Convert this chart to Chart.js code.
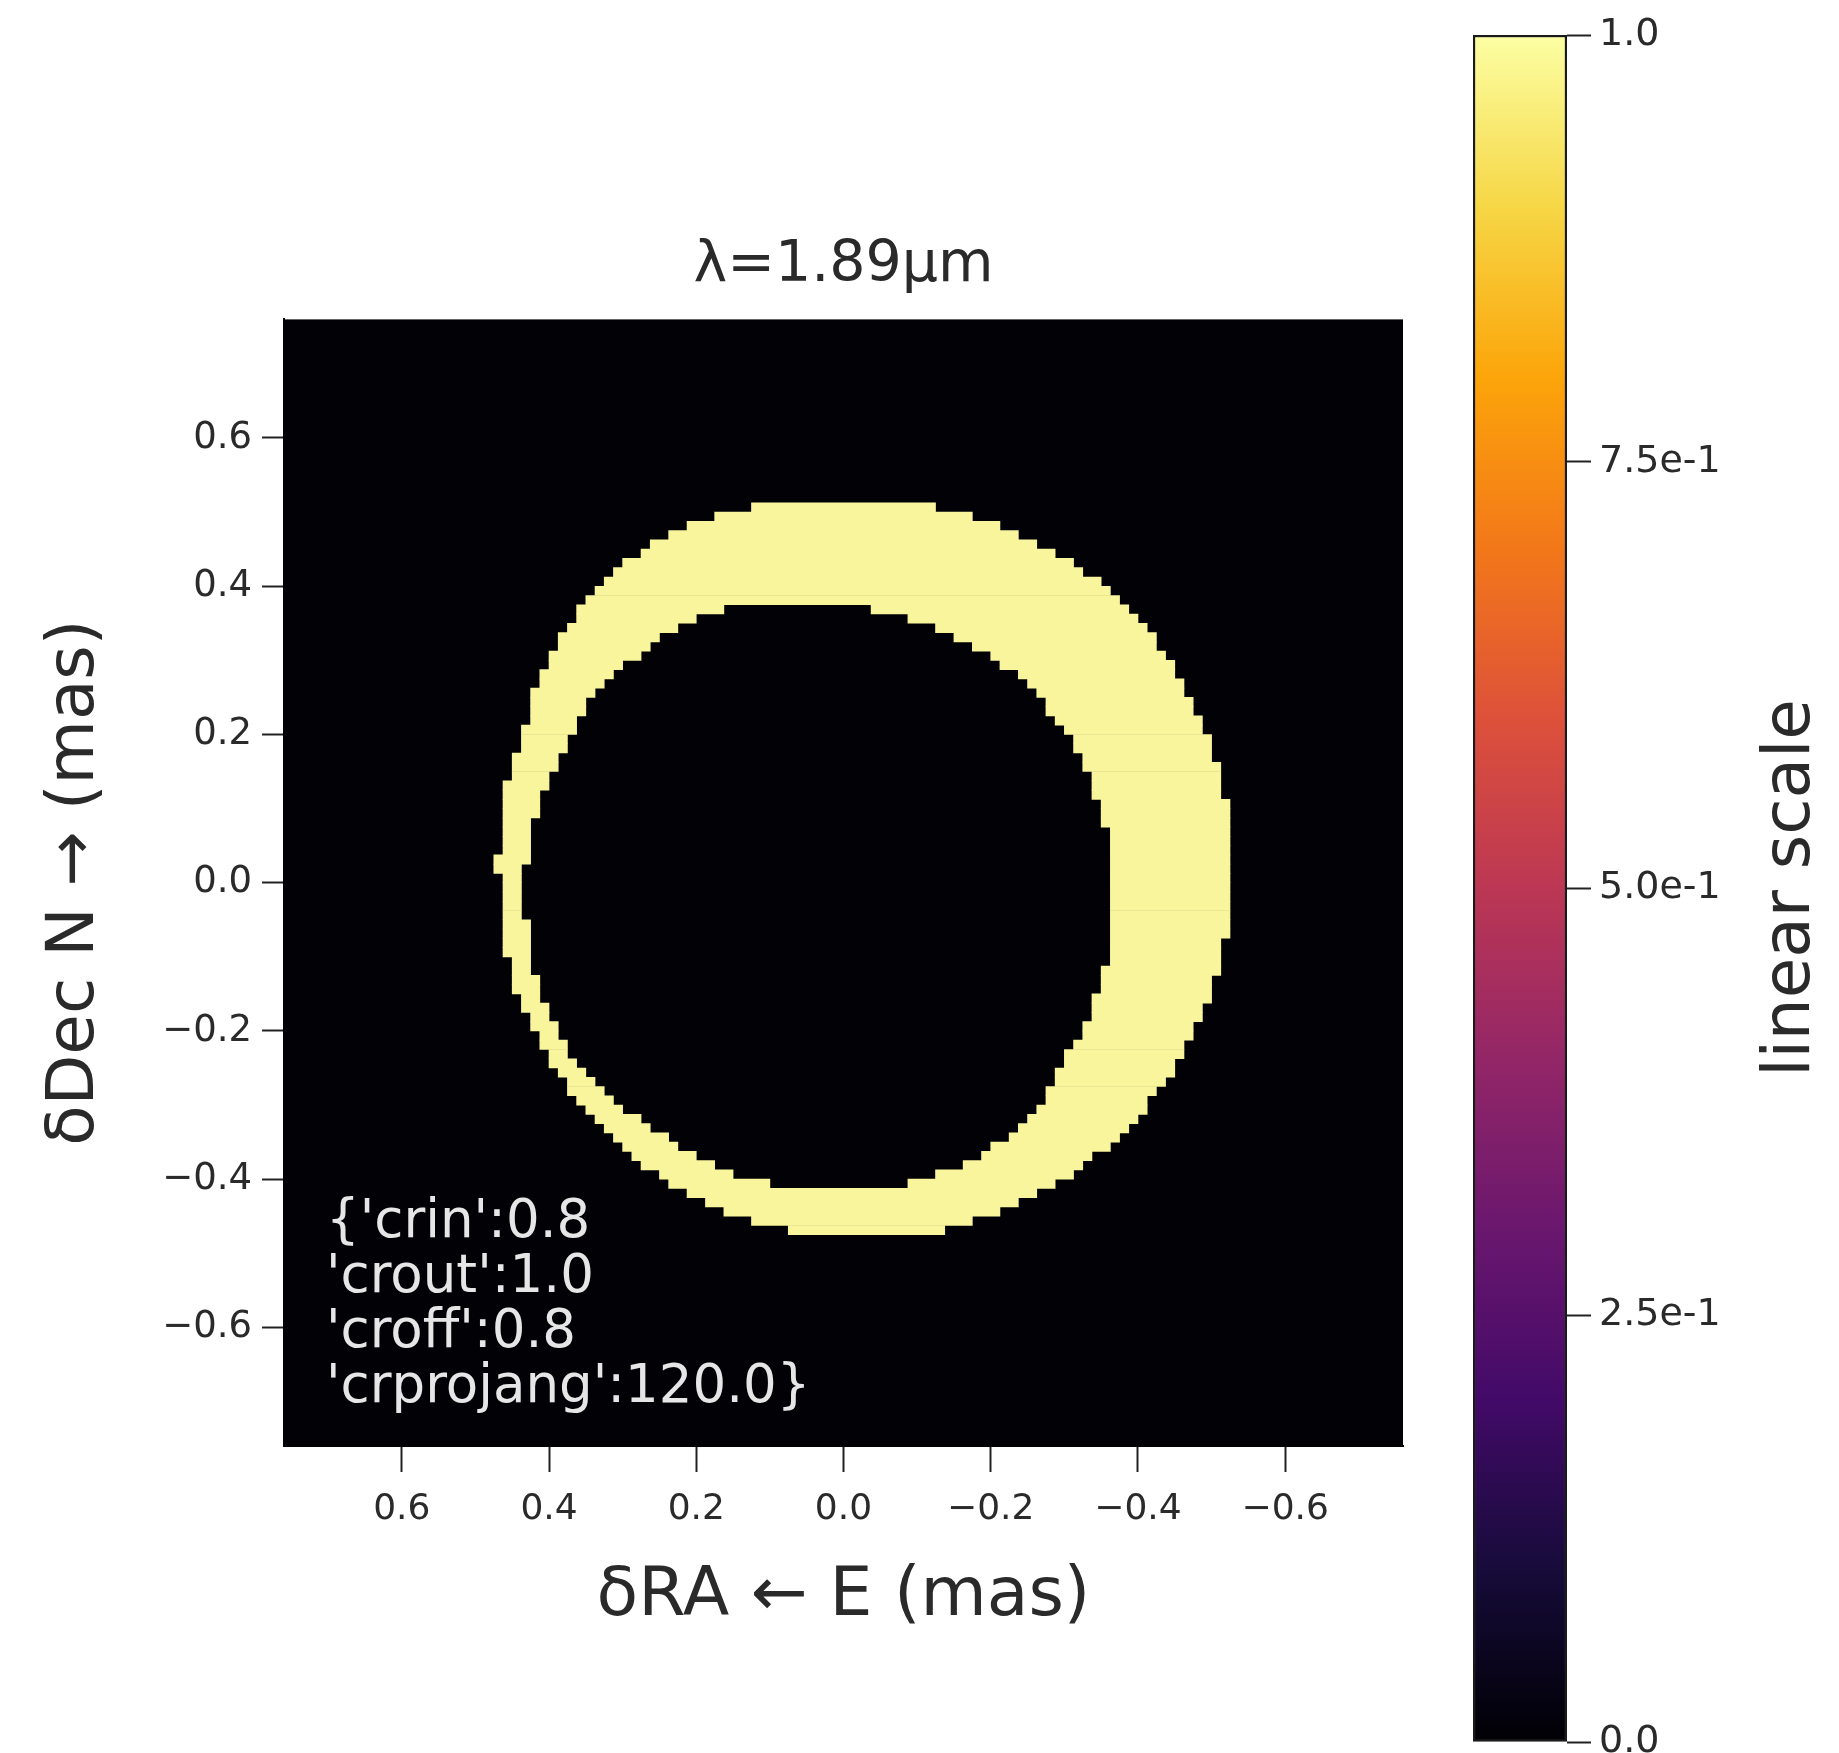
<!DOCTYPE html>
<html>
<head>
<meta charset="utf-8">
<script src="https://cdn.jsdelivr.net/npm/chart.js@4.4.1/dist/chart.umd.min.js"></script>
<style>
  html, body { margin: 0; padding: 0; background: #fff; width: 1839px; height: 1753px; overflow: hidden; }
  #img { position: absolute; left: 0; top: 0; }
  #cbar { position: absolute; left: 1440px; top: 0; }
</style>
</head>
<body>
<canvas id="img" width="1440" height="1700"></canvas>
<canvas id="cbar" width="399" height="1800"></canvas>
<script>
// model image pixel size (mas); edges below are in pixel units, +x = East
const PIX = 0.0125;

const rows = [
  40, 39, 38, 37, 36, 35, 34, 33, 32, 31,
  30, 29, 28, 27, 26, 25, 24, 23, 22, 21,
  20, 19, 18, 17, 16, 15, 14, 13, 12, 11,
  10, 9, 8, 7, 6, 5, 4, 3, 2, 1,
  0, -1, -2, -3, -4, -5, -6, -7, -8, -9,
  -10, -11, -12, -13, -14, -15, -16, -17, -18, -19,
  -20, -21, -22, -23, -24, -25, -26, -27, -28, -29,
  -30, -31, -32, -33, -34, -35, -36, -37, -38
];
const outerW = [
  -10, -14, -17, -19, -21, -23, -25, -26, -28, -29,
  -30, -31, -32, -33, -34, -34, -35, -36, -36, -37,
  -37, -38, -38, -39, -39, -40, -40, -40, -41, -41,
  -41, -41, -42, -42, -42, -42, -42, -42, -42, -42,
  -42, -42, -42, -42, -42, -42, -42, -41, -41, -41,
  -41, -40, -40, -40, -39, -39, -38, -38, -37, -37,
  -36, -36, -35, -34, -33, -33, -32, -31, -30, -29,
  -27, -26, -25, -23, -21, -19, -17, -14, -11
];
const outerE = [
  10, 14, 17, 19, 21, 22, 24, 25, 26, 27,
  28, 29, 29, 30, 31, 31, 32, 32, 33, 33,
  34, 34, 34, 34, 35, 35, 35, 36, 36, 36,
  37, 37, 37, 37, 37, 37, 37, 37, 38, 38,
  37, 37, 37, 37, 37, 37, 37, 37, 37, 36,
  36, 36, 36, 35, 35, 34, 34, 33, 33, 32,
  32, 31, 30, 30, 29, 28, 27, 26, 25, 24,
  23, 22, 20, 19, 17, 15, 13, 10, 6
];
const holeW = [
  null, null, null, null, null, null, null, null, null, null,
  null, -3, -7, -10, -12, -14, -16, -17, -19, -20,
  -21, -22, -22, -23, -24, -25, -25, -26, -26, -27,
  -27, -27, -28, -28, -28, -29, -29, -29, -29, -29,
  -29, -29, -29, -29, -29, -29, -29, -29, -29, -29,
  -28, -28, -28, -27, -27, -27, -26, -26, -25, -24,
  -24, -23, -23, -22, -22, -21, -20, -19, -18, -16,
  -15, -13, -10, -7, null, null, null, null, null
];
const holeE = [
  null, null, null, null, null, null, null, null, null, null,
  null, 13, 16, 18, 20, 21, 22, 24, 25, 26,
  27, 28, 28, 29, 29, 30, 30, 31, 31, 32,
  32, 33, 33, 33, 34, 34, 34, 34, 34, 35,
  35, 35, 35, 35, 35, 34, 34, 34, 34, 34,
  34, 33, 33, 33, 32, 32, 31, 31, 30, 30,
  29, 28, 27, 26, 25, 24, 22, 21, 19, 18,
  16, 14, 12, 8, null, null, null, null, null
];

const xTicks = [0.6, 0.4, 0.2, 0.0, -0.2, -0.4, -0.6];
const yTicks = [0.6, 0.4, 0.2, 0.0, -0.2, -0.4, -0.6];
const cbarTicks = [0, 0.25, 0.5, 0.75, 1.0];
const cbarLabels = ['0.0', '2.5e-1', '5.0e-1', '7.5e-1', '1.0'];
const infoLines = ["{'crin':0.8", "'crout':1.0", "'croff':0.8", "'crprojang':120.0}"];
const inferno = ['#000004', '#160b39', '#420a68', '#6a176e', '#932667', '#bc3754',
                 '#dd513a', '#f37819', '#fca50a', '#f6d746', '#fcffa4'];

const FONT = 'DejaVu Sans';
const TXT = '#2a2a2a';
const HOT = '#f9f59c';

// crescent rows -> floating horizontal bars
const eastSeg = [], westSeg = [];
rows.forEach((m, i) => {
    const y = (m + 0.5) * PIX;
    if (holeW[i] === null) {
        eastSeg.push({ y, x: [outerW[i] * PIX, outerE[i] * PIX] });
        return;
    }
    eastSeg.push({ y, x: [holeE[i] * PIX, outerE[i] * PIX] });
    westSeg.push({ y, x: [outerW[i] * PIX, holeW[i] * PIX] });
});

const fmt = v => (v < -1e-9 ? '\u2212' : '') + Math.abs(v).toFixed(1);

const blackBg = {
    id: 'blackBg',
    beforeDatasetsDraw(chart) {
        const a = chart.chartArea, ctx = chart.ctx;
        ctx.save();
        ctx.fillStyle = '#020206';
        ctx.fillRect(a.left, a.top, a.right - a.left, a.bottom - a.top);
        ctx.restore();
    }
};

const infoText = {
    id: 'infoText',
    afterDatasetsDraw(chart) {
        const a = chart.chartArea, ctx = chart.ctx;
        ctx.save();
        ctx.fillStyle = '#e6e6e6';
        ctx.font = `53px "${FONT}"`;
        ctx.textAlign = 'left';
        ctx.textBaseline = 'middle';
        infoLines.forEach((t, i) => ctx.fillText(t, a.left + 42, a.bottom - 223 + i * 55));
        ctx.restore();
    }
};

const segStyle = {
    backgroundColor: HOT,
    borderWidth: 0,
    grouped: false,
    barPercentage: 1,
    categoryPercentage: 1
};

new Chart(document.getElementById('img'), {
    type: 'bar',
    data: {
        datasets: [
            { label: 'east', data: eastSeg, ...segStyle },
            { label: 'west', data: westSeg, ...segStyle }
        ]
    },
    options: {
        indexAxis: 'y',
        responsive: false,
        animation: false,
        events: [],
        layout: { padding: { left: 0, right: 37, top: 0, bottom: 0 } },
        plugins: {
            legend: { display: false },
            tooltip: { enabled: false },
            title: {
                display: true, fullSize: false, text: '\u03bb=1.89\u03bcm', color: TXT,
                font: { family: FONT, size: 57, weight: 'normal' },
                padding: { top: 232, bottom: 19 }
            }
        },
        scales: {
            x: {
                type: 'linear', reverse: true, min: -0.76, max: 0.76,
                afterBuildTicks: s => { s.ticks = xTicks.map(v => ({ value: v })); },
                afterFit: s => { s.height = 254; },
                ticks: { callback: fmt, color: TXT, font: { family: FONT, size: 36 }, padding: 16, maxRotation: 0, autoSkip: false },
                grid: { drawOnChartArea: false, tickLength: 26, tickWidth: 2, tickColor: '#222' },
                border: { color: '#000', width: 2 },
                title: { display: true, text: '\u03b4RA \u2190 E (mas)', color: TXT, font: { family: FONT, size: 68 }, padding: { top: 0, bottom: 62 } }
            },
            y: {
                type: 'linear', offset: false, min: -0.76, max: 0.76,
                afterBuildTicks: s => { s.ticks = yTicks.map(v => ({ value: v })); },
                afterFit: s => { s.width = 284; },
                ticks: { callback: fmt, color: TXT, font: { family: FONT, size: 37 }, padding: 10, autoSkip: false },
                grid: { drawOnChartArea: false, offset: false, tickLength: 22, tickWidth: 2, tickColor: '#222' },
                border: { color: '#000', width: 2 },
                title: { display: true, text: '\u03b4Dec N \u2192 (mas)', color: TXT, font: { family: FONT, size: 66 }, padding: { top: 36, bottom: 0 } }
            }
        }
    },
    plugins: [blackBg, infoText]
});

// colour bar
const cbarTitle = {
    id: 'cbarTitle',
    afterDraw(chart) {
        const ctx = chart.ctx;
        ctx.save();
        ctx.translate(352, 888);
        ctx.rotate(-Math.PI / 2);
        ctx.fillStyle = TXT;
        ctx.font = `66px "${FONT}"`;
        ctx.textAlign = 'center';
        ctx.textBaseline = 'middle';
        ctx.fillText('linear scale', 0, 0);
        ctx.restore();
    }
};

new Chart(document.getElementById('cbar'), {
    type: 'bar',
    data: {
        labels: [''],
        datasets: [{
            data: [[0, 1]],
            backgroundColor: c => {
                const a = c.chart.chartArea;
                if (!a) return '#000';
                const g = c.chart.ctx.createLinearGradient(0, a.bottom, 0, a.top);
                inferno.forEach((col, i) => g.addColorStop(i / (inferno.length - 1), col));
                return g;
            },
            borderColor: '#1a1a1a',
            borderWidth: 2.5,
            borderSkipped: false,
            barPercentage: 1,
            categoryPercentage: 1
        }]
    },
    options: {
        responsive: false,
        animation: false,
        events: [],
        layout: { padding: { left: 33, top: 35, bottom: 58, right: 0 } },
        plugins: { legend: { display: false }, tooltip: { enabled: false } },
        scales: {
            x: { display: false },
            y: {
                position: 'right', min: 0, max: 1,
                afterBuildTicks: s => { s.ticks = cbarTicks.map(v => ({ value: v })); },
                afterFit: s => { s.width = 272; },
                ticks: { callback: (v, i) => cbarLabels[i], color: TXT, font: { family: FONT, size: 38 }, padding: 8 },
                grid: { drawOnChartArea: false, tickLength: 24, tickWidth: 2, tickColor: '#222' },
                border: { display: false }
            }
        }
    },
    plugins: [cbarTitle]
});
</script>
</body>
</html>
